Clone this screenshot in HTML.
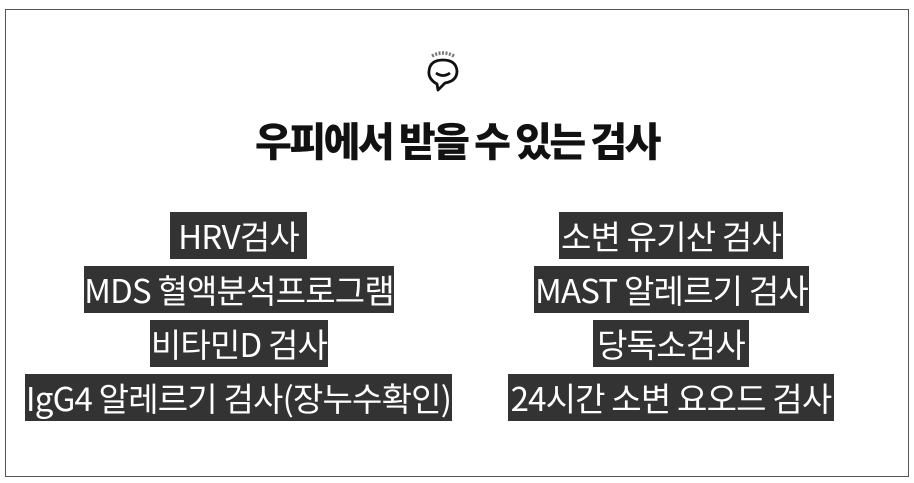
<!DOCTYPE html>
<html><head><meta charset="utf-8"><style>
body{margin:0;width:914px;height:483px;background:#fff;position:relative;overflow:hidden;font-family:"Liberation Sans","Noto Sans CJK KR",sans-serif}
.frame{position:absolute;left:5px;top:9px;width:902px;height:466px;border:1px solid #555}
.t{position:absolute;left:0;width:914px;top:112px;text-align:center;font-family:"Noto Sans CJK KR",sans-serif;font-weight:900;font-size:40px;letter-spacing:-2.5px;color:#111;line-height:54px}
.b{position:absolute;height:47px;background:#333;color:#fff;font-family:"Noto Sans CJK KR",sans-serif;font-size:33px;line-height:46px;text-align:center;white-space:nowrap;letter-spacing:-0.8px}
</style></head><body>
<div class="frame"></div>
<svg style="position:absolute;left:424px;top:46px" width="40" height="48" viewBox="0 0 40 48">
<path d="M8 10 Q19 4 30 10" stroke="#777" stroke-width="3.5" fill="none" stroke-dasharray="2 1.5"/>
<path d="M13 38 Q4 33 5 25 Q6 14 19 14 Q32 14 33 25 Q33 35 21 37 L14 44 Z" stroke="#111" stroke-width="2.8" fill="none" stroke-linejoin="round"/>
<path d="M12 27 Q19 32 26 27" stroke="#111" stroke-width="2.8" fill="none"/>
</svg>
<div class="t">우피에서 받을 수 있는 검사</div>
<div class="b" style="left:170px;top:212px;width:137px">HRV검사</div>
<div class="b" style="left:84px;top:266px;width:310px">MDS 혈액분석프로그램</div>
<div class="b" style="left:150px;top:320px;width:178px">비타민D 검사</div>
<div class="b" style="left:25px;top:374px;width:427px">IgG4 알레르기 검사(장누수확인)</div>
<div class="b" style="left:559px;top:212px;width:224px">소변 유기산 검사</div>
<div class="b" style="left:534px;top:266px;width:275px">MAST 알레르기 검사</div>
<div class="b" style="left:593px;top:320px;width:156px">당독소검사</div>
<div class="b" style="left:508px;top:374px;width:326px">24시간 소변 요오드 검사</div>
</body></html>
